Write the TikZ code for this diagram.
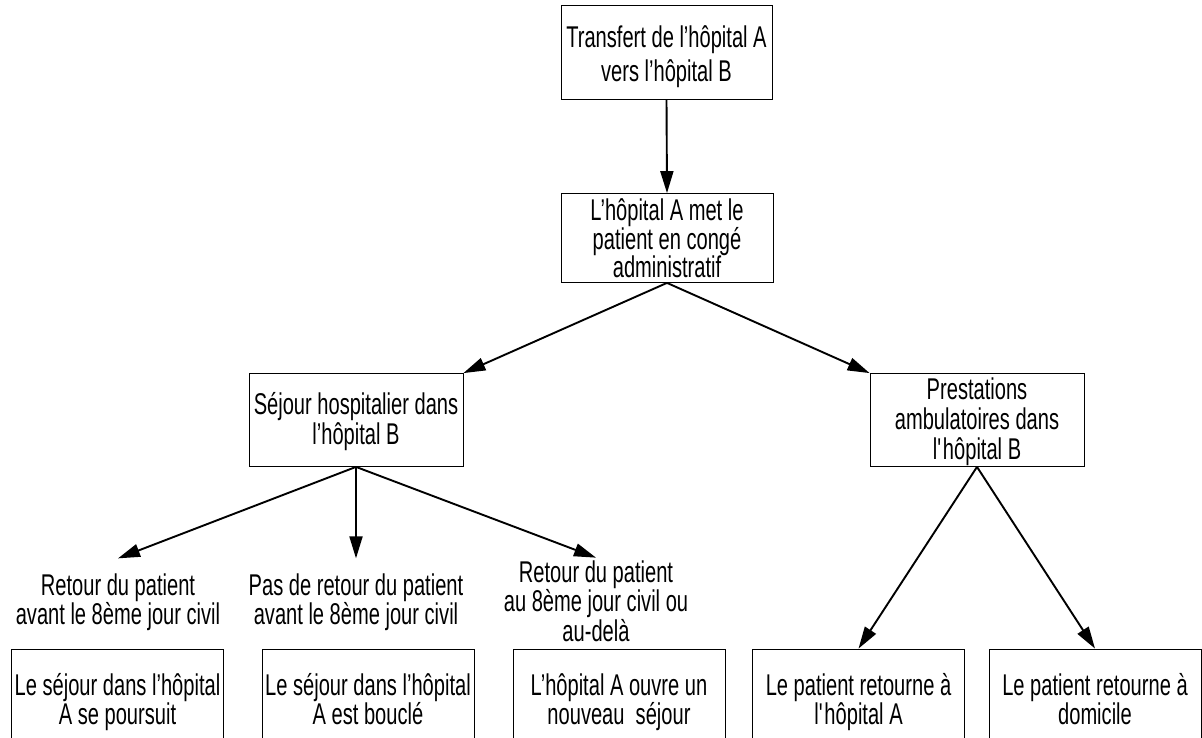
\documentclass[tikz,border=0pt]{standalone}
\usepackage{fontspec}
\setmainfont[FakeStretch=0.67]{Liberation Sans}
\usepackage{tikz}
\usetikzlibrary{positioning,arrows.meta}

\tikzset{
    boite/.style={draw, line width=0.8pt, align=center, inner sep=0pt,
        minimum width=212pt, minimum height=93pt},
    etiquette/.style={align=center, inner sep=0pt, outer ysep=15pt},
    fleche/.style={->, line width=1.9pt},
}

\begin{document}
\begin{tikzpicture}[>={Triangle[length=22pt,width=13pt]}, x=1pt, y=-1pt]
        \clip (0,0) rectangle (1202,738);

        % top of the tree
        \node[boite, minimum width=211pt, minimum height=94pt,
              text height=70pt, text depth=10pt,
              font=\fontsize{30}{34}\selectfont] (transfert) at (666.5,52)
            {Transfert de l’hôpital A\\vers l’hôpital B};
        \node[boite, minimum height=89pt, font=\fontsize{30}{28}\selectfont]
            (conge) at (667,238)
            {L’hôpital A met le\\patient en congé\\administratif};

        % second level
        \node[boite, minimum width=214pt, text height=60pt, text depth=12pt,
              font=\fontsize{30}{30}\selectfont] (sejour) at (356,420)
            {Séjour hospitalier dans\\l’hôpital B};
        \node[boite, minimum width=214pt, text height=80pt, text depth=2pt,
              font=\fontsize{30}{30}\selectfont] (presta) at (977,420)
            {Prestations\\ambulatoires dans\\l\textquotesingle hôpital B};

        % conditions
        \node[etiquette, font=\fontsize{30}{28}\selectfont] (retour1) at (118,602)
            {Retour du patient\\avant le 8ème jour civil};
        \node[etiquette, font=\fontsize{30}{28}\selectfont] (retour2) at (356,602)
            {Pas de retour du patient\\avant le 8ème jour civil};
        \node[etiquette, outer ysep=3pt, font=\fontsize{30}{27}\selectfont]
            (retour3) at (596,601)
            {Retour du patient\\au 8ème jour civil ou\\au-delà};

        % results
        \foreach \nom/\x/\texte in {%
            suite/117.5/{Le séjour dans l’hôpital\\A se poursuit},
            boucle/368/{Le séjour dans l’hôpital\\A est bouclé},
            nouveau/619/{L’hôpital A ouvre un\\nouveau~ séjour},
            retourA/858.5/{Le patient retourne à\\l\textquotesingle hôpital A},
            domicile/1095/{Le patient retourne à\\domicile}} {
            \node[boite, text height=60pt, text depth=2pt,
                  font=\fontsize{30}{27}\selectfont] (\nom) at (\x,695.5) {\texte};
        }

        % arrows
        \draw[fleche] (transfert.south) -- (conge.north);
        \draw[fleche] (conge.south) -- (sejour.north east);
        \draw[fleche] (conge.south) -- (presta.north west);
        \draw[fleche] (sejour.south) -- (retour1.north);
        \draw[fleche] (sejour.south) -- (retour2.north);
        \draw[fleche] (sejour.south) -- (retour3.north);
        \draw[fleche] (presta.south) -- (retourA.north);
        \draw[fleche] (presta.south) -- (domicile.north);
    \end{tikzpicture}
\end{document}
